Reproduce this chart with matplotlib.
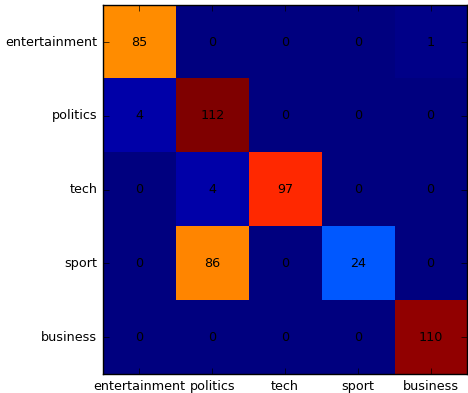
import numpy as np
import matplotlib
matplotlib.use("Agg")
import matplotlib.pyplot as plt

# ==============================
# Confusion matrix data
# ==============================
labels = ["entertainment", "politics", "tech", "sport", "business"]
row_entertainment = [85, 0, 0, 0, 1]
row_politics = [4, 112, 0, 0, 0]
row_tech = [0, 4, 97, 0, 0]
row_sport = [0, 86, 0, 24, 0]
row_business = [0, 0, 0, 0, 110]

cm = np.array([row_entertainment, row_politics, row_tech, row_sport, row_business])

plt.style.use("classic")
fig = plt.figure(figsize=(4.68, 3.93), dpi=100)
fig.patch.set_facecolor("white")
ax = fig.add_axes([0.220, 0.048, 0.778, 0.939])

ax.imshow(cm, cmap="jet", interpolation="nearest", aspect="auto")

for i in range(cm.shape[0]):
    for j in range(cm.shape[1]):
        ax.text(j, i, str(cm[i, j]), ha="center", va="center", fontsize=9.2, color="black")

ax.set_xticks(range(len(labels)))
ax.set_yticks(range(len(labels)))
ax.set_xticklabels(labels, fontsize=9.2)
ax.set_yticklabels(labels, fontsize=9.2)
ax.set_xlim(-0.5, 4.5)
ax.set_ylim(4.5, -0.5)

fig.savefig("out.png", dpi=100, facecolor="white")
